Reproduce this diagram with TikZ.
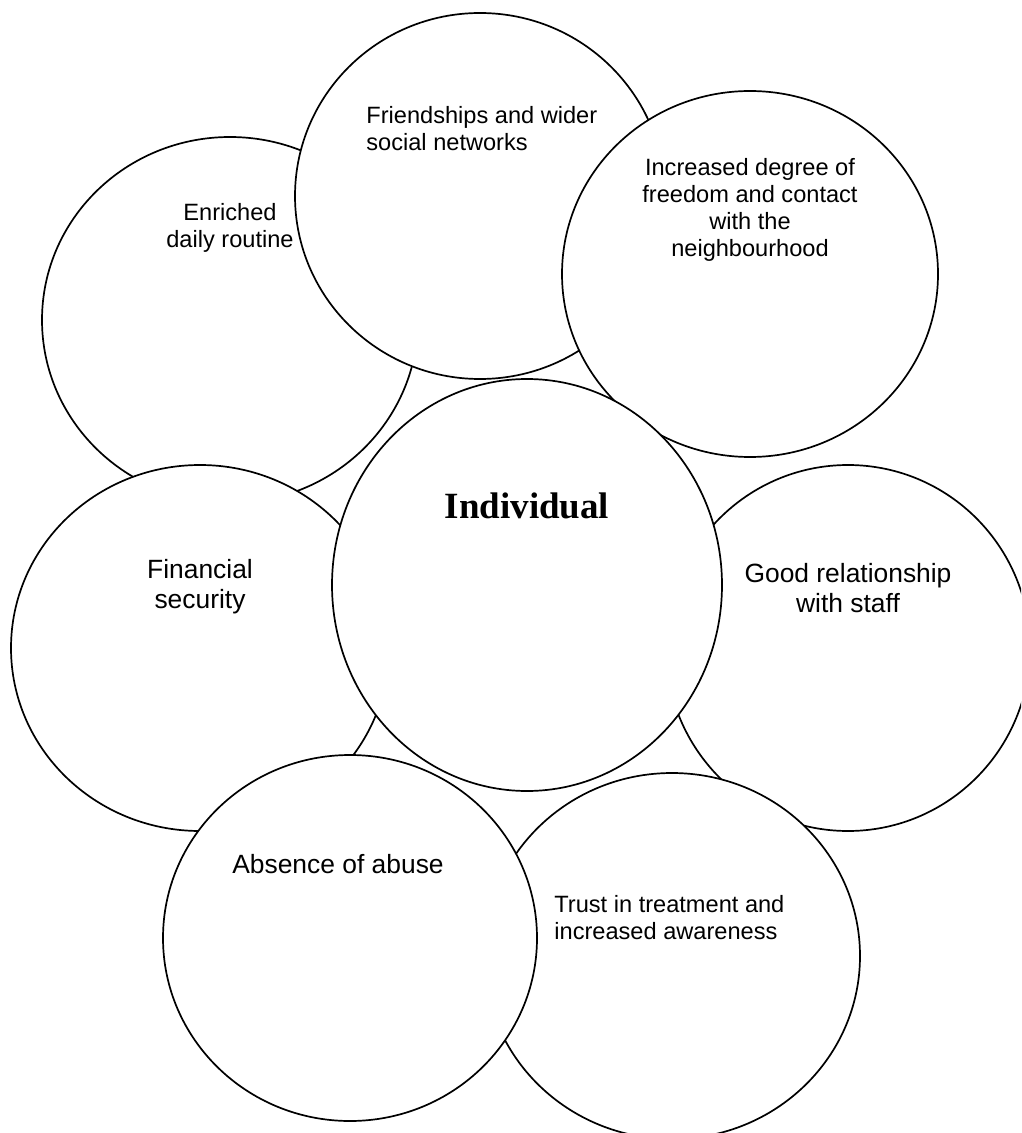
\documentclass[tikz,border=0pt]{standalone}
\usepackage{fontspec}
\setmainfont{Liberation Sans}
\newfontfamily\indivfont{Liberation Serif}
\tikzset{
	bubble/.style={draw=black, fill=white, line width=0.85pt},
	smalltext/.style={font=\fontsize{11.8}{13.5}\selectfont, inner sep=0pt},
	bigtext/.style={font=\fontsize{13.2}{15}\selectfont, inner sep=0pt}
}
\begin{document}
\begin{tikzpicture}[x=0.5pt,y=-0.5pt]

	\useasboundingbox (0,0) rectangle (1021,1133);
	\clip (0,0) rectangle (1021,1133);

	% upper ring
	\draw[bubble] (230,320) ellipse (188 and 183);
	\node[smalltext, anchor=north, align=center] (enriched) at (230,203) {Enriched\\daily routine};
	\draw[bubble] (480,196) ellipse (185 and 183);
	\node[smalltext, anchor=north west, align=left] (friends) at (366,106) {Friendships and wider\\social networks};
	\draw[bubble] (750,274) ellipse (188 and 183);
	\node[smalltext, anchor=north, align=center] (freedom) at (750,158) {Increased degree of\\freedom and contact\\with the\\neighbourhood};

	% sides
	\draw[bubble] (200,648) ellipse (189 and 183);
	\node[bigtext, anchor=north, align=center] (money) at (200,559) {Financial\\security};
	\draw[bubble] (848,648) ellipse (182 and 183);
	\node[bigtext, anchor=north, align=center] (staff) at (848,563) {Good relationship\\with staff};

	% centre
	\draw[bubble] (527,585) ellipse (195 and 206);
	\node[font=\indivfont\bfseries\fontsize{18.5}{22}\selectfont, anchor=base, inner sep=0pt] (indiv) at (527,518) {Individual};

	% lower ring
	\draw[bubble] (672,956) ellipse (188 and 183);
	\node[smalltext, anchor=north west, align=left] (trust) at (554,895) {Trust in treatment and\\increased awareness};
	\draw[bubble] (350,938) ellipse (187 and 183);
	\node[bigtext, anchor=north, align=center] (abuse) at (338,854) {Absence of abuse};

	%\draw[thick,gray] (0,0) rectangle (1021,1133);

\end{tikzpicture}
\end{document}
